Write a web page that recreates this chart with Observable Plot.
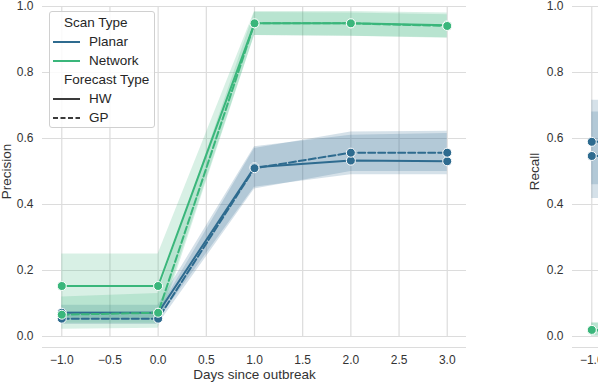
<!DOCTYPE html>
<html>
<head>
<meta charset="utf-8">
<script src="https://cdn.jsdelivr.net/npm/d3@7"></script>
<script src="https://cdn.jsdelivr.net/npm/@observablehq/plot@0.6"></script>
<style>
  html, body { margin: 0; padding: 0; background: white; }
  #wrap { position: relative; width: 598px; height: 384px; overflow: hidden; background: white;
          font-family: "Liberation Sans", Arial, sans-serif; }
  #left { position: absolute; left: 0; top: 0; width: 478px; height: 384px; }
  #right { position: absolute; left: 530px; top: 0; width: 478px; height: 384px; }
  #left svg, #right svg { max-width: none !important; width: 478px !important; height: 384px !important; }
  #legend { position: absolute; left: 49px; top: 11px; width: 106px; height: 117px;
            border: 1px solid #d0d0d0; border-radius: 3px; background: rgba(255,255,255,0.85);
            font-size: 13.5px; color: #262626; box-sizing: border-box; }
  #legend .row { position: absolute; left: 0; height: 16px; line-height: 16px; white-space: nowrap; }
  #legend svg { position: absolute; left: 3px; top: 4px; }
  #legend span { position: absolute; }
</style>
</head>
<body>
<div id="wrap">
  <div id="left"></div>
  <div id="right"></div>
  <div id="legend"></div>
</div>
<script>
// ---------- data ----------
const scanTypes = ["Planar", "Network"];
const forecastTypes = ["HW", "GP"];
const scanColors = ["#2e6b8f", "#3ab67b"];
const xTicks = [-1, -0.5, 0, 0.5, 1, 1.5, 2, 2.5, 3];
const yTicks = [0, 0.2, 0.4, 0.6, 0.8, 1.0];

// Precision panel
const days = [-1, 0, 1, 2, 3];
const precPlanarHW   = [0.072, 0.072, 0.513, 0.533, 0.531];
const precPlanarGP   = [0.054, 0.054, 0.510, 0.557, 0.557];
const precNetworkHW  = [0.153, 0.153, 0.949, 0.949, 0.943];
const precNetworkGP  = [0.066, 0.072, 0.949, 0.949, 0.941];
const precPlanarHWLo = [0.050, 0.050, 0.452, 0.490, 0.490];
const precPlanarHWHi = [0.095, 0.095, 0.575, 0.610, 0.615];
const precPlanarGPLo = [0.036, 0.036, 0.447, 0.500, 0.500];
const precPlanarGPHi = [0.075, 0.075, 0.570, 0.620, 0.622];
const precNetworkHWLo = [0.040, 0.040, 0.912, 0.910, 0.905];
const precNetworkHWHi = [0.250, 0.250, 0.985, 0.985, 0.980];
const precNetworkGPLo = [0.022, 0.025, 0.912, 0.910, 0.904];
const precNetworkGPHi = [0.120, 0.130, 0.982, 0.980, 0.975];

// Recall panel (only its left edge is visible)
const recDays = [-1, 0];
const recPlanarHW   = [0.547, 0.548];
const recPlanarGP   = [0.590, 0.590];
const recNetworkHW  = [0.018, 0.020];
const recNetworkGP  = [0.020, 0.020];
const recPlanarHWLo = [0.418, 0.420];
const recPlanarHWHi = [0.680, 0.680];
const recPlanarGPLo = [0.460, 0.460];
const recPlanarGPHi = [0.716, 0.716];
const recNetworkHWLo = [0.000, 0.000];
const recNetworkHWHi = [0.040, 0.040];
const recNetworkGPLo = [0.002, 0.002];
const recNetworkGPHi = [0.042, 0.042];

// ---------- build tidy rows ----------
function rowsOf(xs, scan, forecast, vals, lo, hi) {
  return xs.map((d, i) => ({day: d, value: vals[i], lo: lo[i], hi: hi[i], scan, forecast, series: scan + "-" + forecast}));
}
const precRows = [
  ...rowsOf(days, "Planar", "HW", precPlanarHW, precPlanarHWLo, precPlanarHWHi),
  ...rowsOf(days, "Planar", "GP", precPlanarGP, precPlanarGPLo, precPlanarGPHi),
  ...rowsOf(days, "Network", "HW", precNetworkHW, precNetworkHWLo, precNetworkHWHi),
  ...rowsOf(days, "Network", "GP", precNetworkGP, precNetworkGPLo, precNetworkGPHi)
];
const recRows = [
  ...rowsOf(recDays, "Planar", "HW", recPlanarHW, recPlanarHWLo, recPlanarHWHi),
  ...rowsOf(recDays, "Planar", "GP", recPlanarGP, recPlanarGPLo, recPlanarGPHi),
  ...rowsOf(recDays, "Network", "HW", recNetworkHW, recNetworkHWLo, recNetworkHWHi),
  ...rowsOf(recDays, "Network", "GP", recNetworkGP, recNetworkGPLo, recNetworkGPHi)
];

const grid = "#dcdcdc";
const fmt = d3.format(".1f");

function panel(rows, ylabel, labelOffset) {
  const hw = rows.filter(d => d.forecast === "HW");
  const gp = rows.filter(d => d.forecast === "GP");
  return Plot.plot({
    width: 478, height: 384,
    marginLeft: 42, marginRight: 12, marginTop: 6, marginBottom: 48,
    style: {fontFamily: "'Liberation Sans', Arial, sans-serif", fontSize: "12px", color: "#333", background: "transparent", overflow: "visible"},
    x: {domain: [-1.2, 3.2]},
    y: {domain: [0, 1]},
    color: {domain: scanTypes, range: scanColors},
    marks: [
      Plot.gridX(xTicks, {stroke: grid, strokeOpacity: 1, strokeWidth: 1.2}),
      Plot.gridY(yTicks, {stroke: grid, strokeOpacity: 1, strokeWidth: 1.2}),
      Plot.ruleY([0], {dy: 11, stroke: grid, strokeWidth: 1.2}),
      Plot.axisX(xTicks, {tickSize: 0, tickPadding: 19, tickFormat: fmt, label: null}),
      Plot.axisX({tickSize: 0, ticks: [], label: "Days since outbreak", labelAnchor: "center", labelOffset: 42, labelArrow: "none", fontSize: 13.5}),
      Plot.axisY(yTicks, {tickSize: 0, tickPadding: 9, tickFormat: fmt, label: null}),
      Plot.axisY({tickSize: 0, ticks: [], label: ylabel, labelAnchor: "center", labelOffset: labelOffset, labelArrow: "none", fontSize: 13.5}),
      Plot.areaY(rows, {x: "day", y1: "lo", y2: "hi", fill: "scan", z: "series", fillOpacity: 0.2}),
      Plot.lineY(hw, {x: "day", y: "value", stroke: "scan", z: "series", strokeWidth: 2}),
      Plot.lineY(gp, {x: "day", y: "value", stroke: "scan", z: "series", strokeWidth: 2, strokeDasharray: "7,3"}),
      Plot.dot(rows, {x: "day", y: "value", fill: "scan", r: 4.5, stroke: "white", strokeWidth: 1})
    ]
  });
}

document.getElementById("left").appendChild(panel(precRows, "Precision", 41));
document.getElementById("right").appendChild(panel(recRows, "Recall", 43));

// ---------- legend ----------
const legend = document.getElementById("legend");
const entries = [
  {type: "title", text: "Scan Type", y: 3},
  {type: "item", text: scanTypes[0], color: scanColors[0], dash: null, y: 22},
  {type: "item", text: scanTypes[1], color: scanColors[1], dash: null, y: 41},
  {type: "title", text: "Forecast Type", y: 60},
  {type: "item", text: forecastTypes[0], color: "#3a3a3a", dash: null, y: 79},
  {type: "item", text: forecastTypes[1], color: "#3a3a3a", dash: "5,2.5", y: 98}
];
for (const e of entries) {
  const row = document.createElement("div");
  row.className = "row";
  row.style.top = e.y + "px";
  row.style.width = "100%";
  if (e.type === "title") {
    const sp = document.createElement("span");
    sp.style.left = "14px";
    sp.textContent = e.text;
    row.appendChild(sp);
  } else {
    const ns = "http://www.w3.org/2000/svg";
    const svg = document.createElementNS(ns, "svg");
    svg.setAttribute("width", "28"); svg.setAttribute("height", "8");
    const ln = document.createElementNS(ns, "line");
    ln.setAttribute("x1", "0"); ln.setAttribute("x2", "27");
    ln.setAttribute("y1", "4"); ln.setAttribute("y2", "4");
    ln.setAttribute("stroke", e.color); ln.setAttribute("stroke-width", "2");
    if (e.dash) ln.setAttribute("stroke-dasharray", e.dash);
    svg.appendChild(ln);
    row.appendChild(svg);
    const sp = document.createElement("span");
    sp.style.left = "39px";
    sp.textContent = e.text;
    row.appendChild(sp);
  }
  legend.appendChild(row);
}
</script>
</body>
</html>
